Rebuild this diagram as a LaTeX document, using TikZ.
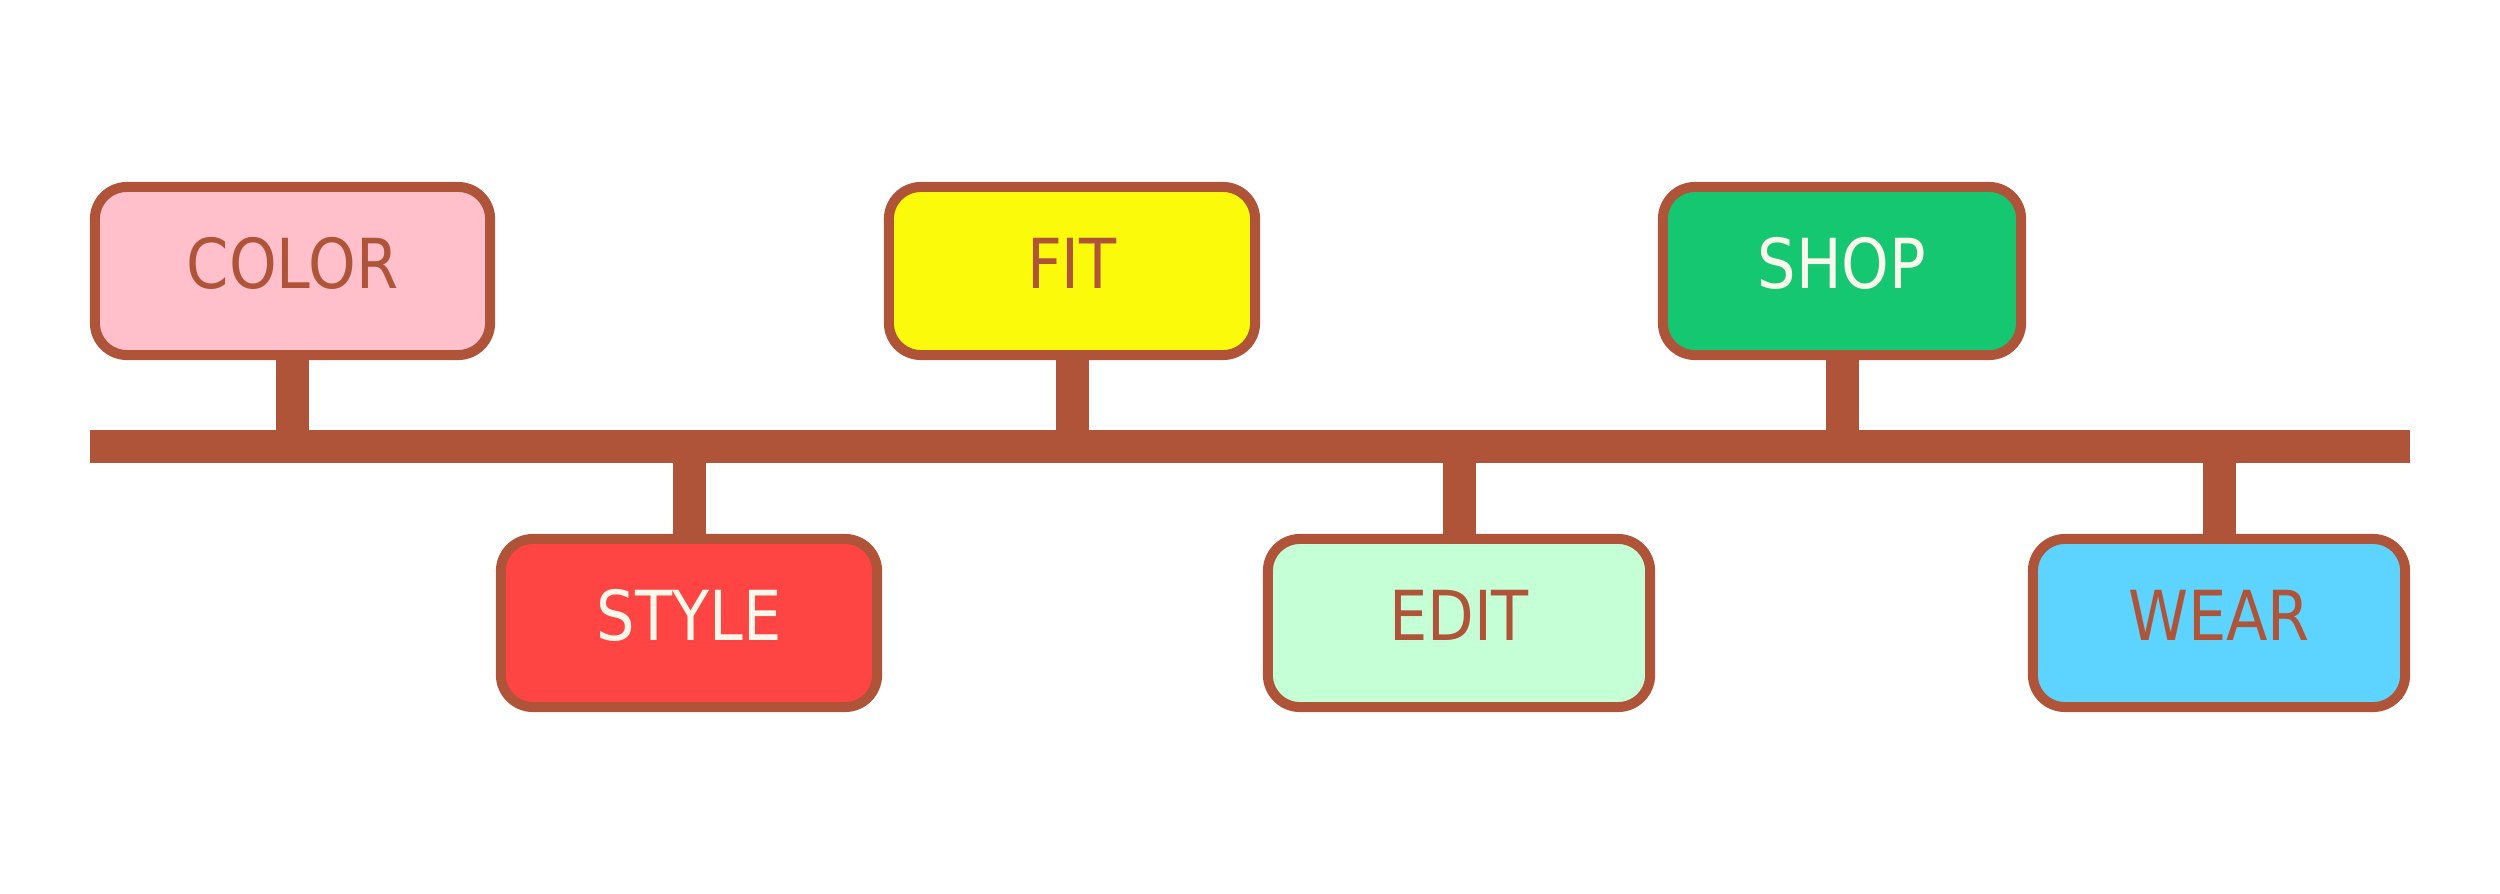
\documentclass[tikz,border=0pt]{standalone}
\usepackage{fontspec}
\usepackage{graphicx}
\newfontfamily\tagfont{DejaVu Sans}
\newcommand\tagtext[1]{\scalebox{0.88}[1]{#1}}
\definecolor{barbrown}{RGB}{175,84,56}
\definecolor{tagpink}{RGB}{255,192,203}
\definecolor{tagyellow}{RGB}{250,250,10}
\definecolor{taggreen}{RGB}{22,199,113}
\definecolor{tagred}{RGB}{255,68,68}
\definecolor{tagmint}{RGB}{196,255,214}
\definecolor{tagsky}{RGB}{92,212,255}
\definecolor{tagcream}{RGB}{250,247,235}
\tikzset{
  tag/.style={draw=barbrown,line width=0.1cm,rounded corners=0.32cm,
    minimum height=1.68cm,text depth=0.16cm,inner sep=0pt,
    font=\tagfont\fontsize{19.6}{24}\selectfont},
  stem/.style={draw=barbrown,line width=0.33cm},
}
\begin{document}
\begin{tikzpicture}[x=0.01cm,y=-0.01cm,line join=bevel]
  \useasboundingbox (0,0) rectangle (2500,894);
%%
  % Bar
  \coordinate (barL) at (90,446.5);
  \coordinate (barR) at (2410,446.5);
  \draw [stem] (barL) -- (barR);
  % Node: color
  \node [tag,fill=tagpink,text=barbrown,minimum width=3.95cm] (color) at (292.5,271) {\tagtext{COLOR}};
  % Node: fit
  \node [tag,fill=tagyellow,text=barbrown,minimum width=3.66cm] (fit) at (1072,271) {\tagtext{FIT}};
  % Node: shop
  \node [tag,fill=taggreen,text=tagcream,minimum width=3.58cm] (shop) at (1842,271) {\tagtext{SHOP}};
  % Node: style
  \node [tag,fill=tagred,text=tagcream,minimum width=3.76cm] (style) at (689,623) {\tagtext{STYLE}};
  % Node: edit
  \node [tag,fill=tagmint,text=barbrown,minimum width=3.82cm] (edit) at (1459,623) {\tagtext{EDIT}};
  % Node: wear
  \node [tag,fill=tagsky,text=barbrown,minimum width=3.72cm] (wear) at (2219,623) {\tagtext{WEAR}};
  % Edge: color -> bar
  \draw [stem] (color.south) -- (color.south |- barL);
  % Edge: fit -> bar
  \draw [stem] (fit.south) -- (fit.south |- barL);
  % Edge: shop -> bar
  \draw [stem] (shop.south) -- (shop.south |- barL);
  % Edge: style -> bar
  \draw [stem] (style.north) -- (style.north |- barL);
  % Edge: edit -> bar
  \draw [stem] (edit.north) -- (edit.north |- barL);
  % Edge: wear -> bar
  \draw [stem] (wear.north) -- (wear.north |- barL);
%
\end{tikzpicture}
\end{document}
